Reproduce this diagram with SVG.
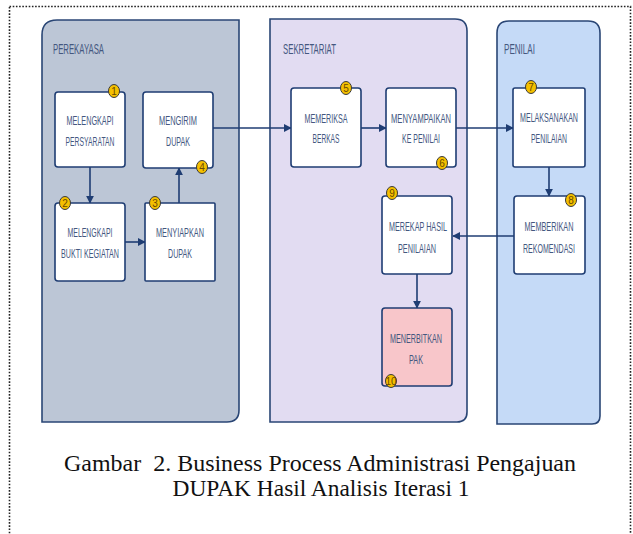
<svg xmlns="http://www.w3.org/2000/svg" width="633" height="534" viewBox="0 0 633 534">
<defs>
<marker id="ah" viewBox="0 0 10 10" refX="9" refY="5" markerWidth="8" markerHeight="8" markerUnits="userSpaceOnUse" orient="auto">
<path d="M0,0 L10,5 L0,10 z" fill="#1f3d73"/>
</marker>
</defs>
<style>
.lane{stroke:#2a4675;stroke-width:1.6}
.box{fill:#ffffff;stroke:#1f3d73;stroke-width:1.6}
.pink{fill:#f8c6ca}
.t{font-family:"Liberation Sans Narrow","Liberation Sans",Arial,sans-serif;font-size:13.5px;fill:#44577f;text-anchor:middle}
.lt{font-family:"Liberation Sans Narrow","Liberation Sans",Arial,sans-serif;font-size:15px;fill:#44577f}
.badge{fill:#f5c000;stroke:#3a3a3a;stroke-width:1}
.bn{font-family:"Liberation Sans Narrow","Liberation Sans",Arial,sans-serif;font-size:10px;fill:#6b4a00;text-anchor:middle}
.conn{fill:none;stroke:#1f3d73;stroke-width:1.6;marker-end:url(#ah)}
.cap{font-family:"Liberation Serif","Times New Roman",serif;font-size:23px;fill:#111;text-anchor:middle;white-space:pre}
</style>
<rect x="9.5" y="6.5" width="621" height="540" fill="none" stroke="#222" stroke-width="1.6" stroke-dasharray="1.6,1.6"/>

<g id="lane-perekayasa">
<path class="lane" fill="#bcc6d6" d="M42,35 Q42,20 57,20 L239,20 L239,410 Q239,422 227,422 L42,422 Z"/>
<text class="lt" x="53" y="54" textLength="51" lengthAdjust="spacingAndGlyphs">PEREKAYASA</text>
</g>
<g id="lane-sekretariat">
<path class="lane" fill="#e2dcf2" d="M270,19 L455,19 Q467,19 467,31 L467,412 Q467,422 457,422 L270,422 Z"/>
<text class="lt" x="283" y="54" textLength="53" lengthAdjust="spacingAndGlyphs">SEKRETARIAT</text>
</g>
<g id="lane-penilai">
<path class="lane" fill="#c5daf7" d="M497,33 Q497,21 509,21 L588,21 Q600,21 600,33 L600,416 Q600,424 592,424 L497,424 Z"/>
<text class="lt" x="504" y="54" textLength="31" lengthAdjust="spacingAndGlyphs">PENILAI</text>
</g>

<g id="connectors">
<path class="conn" d="M90,167 L90,203"/>
<path class="conn" d="M125,242 L145,242"/>
<path class="conn" d="M179,203 L179,168"/>
<path class="conn" d="M213,128 L291,128"/>
<path class="conn" d="M361,128 L386,128"/>
<path class="conn" d="M456,128 L513,128"/>
<path class="conn" d="M549,167 L549,196"/>
<path class="conn" d="M514,236 L453,236"/>
<path class="conn" d="M417,274 L417,308"/>
</g>

<g id="n1">
<rect class="box" x="55" y="92" width="70" height="75" rx="3"/>
<text class="t" x="90" y="125" textLength="47" lengthAdjust="spacingAndGlyphs">MELENGKAPI</text>
<text class="t" x="90" y="146" textLength="49" lengthAdjust="spacingAndGlyphs">PERSYARATAN</text>
<ellipse class="badge" cx="114" cy="91" rx="5.5" ry="6.5"/><text class="bn" x="114" y="94.5">1</text>
</g>
<g id="n2">
<rect class="box" x="55" y="203" width="70" height="78" rx="3"/>
<text class="t" x="90" y="237" textLength="45" lengthAdjust="spacingAndGlyphs">MELENGKAPI</text>
<text class="t" x="90" y="258" textLength="58" lengthAdjust="spacingAndGlyphs">BUKTI KEGIATAN</text>
<ellipse class="badge" cx="65" cy="203" rx="5.5" ry="6.5"/><text class="bn" x="65" y="206.5">2</text>
</g>
<g id="n3">
<rect class="box" x="145" y="203" width="70" height="78" rx="1"/>
<text class="t" x="180" y="237" textLength="48" lengthAdjust="spacingAndGlyphs">MENYIAPKAN</text>
<text class="t" x="180" y="258" textLength="24" lengthAdjust="spacingAndGlyphs">DUPAK</text>
<ellipse class="badge" cx="155" cy="203" rx="5.5" ry="6.5"/><text class="bn" x="155" y="206.5">3</text>
</g>
<g id="n4">
<rect class="box" x="143" y="92" width="70" height="76" rx="3"/>
<text class="t" x="178" y="125" textLength="38" lengthAdjust="spacingAndGlyphs">MENGIRIM</text>
<text class="t" x="178" y="146" textLength="24" lengthAdjust="spacingAndGlyphs">DUPAK</text>
<ellipse class="badge" cx="202" cy="167" rx="5.5" ry="6.5"/><text class="bn" x="202" y="170.5">4</text>
</g>
<g id="n5">
<rect class="box" x="291" y="88" width="70" height="79" rx="3"/>
<text class="t" x="326" y="123" textLength="43" lengthAdjust="spacingAndGlyphs">MEMERIKSA</text>
<text class="t" x="326" y="143" textLength="27" lengthAdjust="spacingAndGlyphs">BERKAS</text>
<ellipse class="badge" cx="346" cy="88" rx="5.5" ry="6.5"/><text class="bn" x="346" y="91.5">5</text>
</g>
<g id="n6">
<rect class="box" x="386" y="88" width="70" height="79" rx="3"/>
<text class="t" x="421" y="123" textLength="60" lengthAdjust="spacingAndGlyphs">MENYAMPAIKAN</text>
<text class="t" x="421" y="143" textLength="38" lengthAdjust="spacingAndGlyphs">KE PENILAI</text>
<ellipse class="badge" cx="442" cy="163" rx="5.5" ry="6.5"/><text class="bn" x="442" y="166.5">6</text>
</g>
<g id="n7">
<rect class="box" x="513" y="88" width="72" height="79" rx="2"/>
<text class="t" x="549" y="122" textLength="58" lengthAdjust="spacingAndGlyphs">MELAKSANAKAN</text>
<text class="t" x="549" y="143" textLength="36" lengthAdjust="spacingAndGlyphs">PENILAIAN</text>
<ellipse class="badge" cx="531" cy="87" rx="5.5" ry="6.5"/><text class="bn" x="531" y="90.5">7</text>
</g>
<g id="n8">
<rect class="box" x="514" y="196" width="71" height="78" rx="3"/>
<text class="t" x="549" y="231" textLength="49" lengthAdjust="spacingAndGlyphs">MEMBERIKAN</text>
<text class="t" x="549" y="253" textLength="52" lengthAdjust="spacingAndGlyphs">REKOMENDASI</text>
<ellipse class="badge" cx="571" cy="200" rx="5.5" ry="6.5"/><text class="bn" x="571" y="203.5">8</text>
</g>
<g id="n9">
<rect class="box" x="382" y="196" width="70" height="78" rx="3"/>
<text class="t" x="418" y="231" textLength="58" lengthAdjust="spacingAndGlyphs">MEREKAP HASIL</text>
<text class="t" x="417" y="253" textLength="38" lengthAdjust="spacingAndGlyphs">PENILAIAN</text>
<ellipse class="badge" cx="392" cy="193" rx="5.5" ry="6.5"/><text class="bn" x="392" y="196.5">9</text>
</g>
<g id="n10">
<rect class="box pink" x="382" y="308" width="70" height="78" rx="3"/>
<text class="t" x="416" y="343" textLength="52" lengthAdjust="spacingAndGlyphs">MENERBITKAN</text>
<text class="t" x="416" y="364" textLength="14" lengthAdjust="spacingAndGlyphs">PAK</text>
<ellipse class="badge" cx="391" cy="381" rx="5.5" ry="6.5"/><text class="bn" x="391" y="384.5" font-size="8">10</text>
</g>

<text class="cap" x="320" y="471" textLength="512" lengthAdjust="spacingAndGlyphs" xml:space="preserve">Gambar  2. Business Process Administrasi Pengajuan</text>
<text class="cap" x="321" y="496" textLength="297" lengthAdjust="spacingAndGlyphs">DUPAK Hasil Analisis Iterasi 1</text>
</svg>
